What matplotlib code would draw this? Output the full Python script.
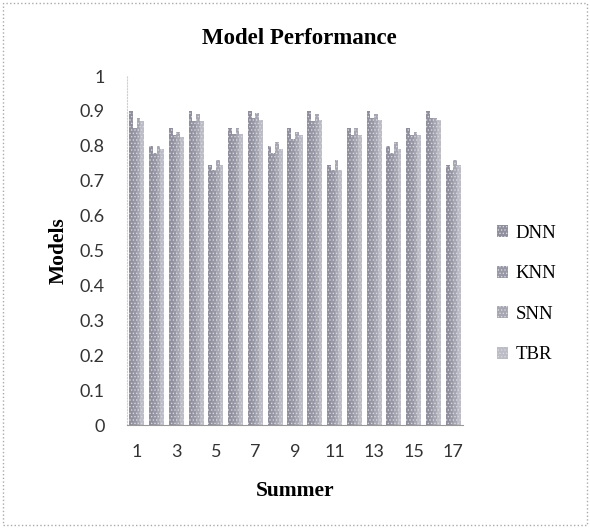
import numpy as np
import matplotlib
matplotlib.use('Agg')
import matplotlib.pyplot as plt
from matplotlib.patches import Rectangle

# values
summers = list(range(1, 18))
dnn = [0.90, 0.80, 0.85, 0.90, 0.745, 0.85, 0.90, 0.80, 0.85, 0.90, 0.745, 0.85, 0.90, 0.80, 0.85, 0.90, 0.745]
knn = [0.85, 0.78, 0.83, 0.87, 0.73, 0.835, 0.88, 0.78, 0.82, 0.87, 0.73, 0.83, 0.88, 0.78, 0.83, 0.88, 0.73]
snn = [0.88, 0.80, 0.84, 0.89, 0.76, 0.85, 0.895, 0.81, 0.84, 0.89, 0.76, 0.85, 0.89, 0.81, 0.84, 0.88, 0.76]
tbr = [0.87, 0.79, 0.825, 0.87, 0.745, 0.835, 0.875, 0.79, 0.83, 0.875, 0.73, 0.83, 0.875, 0.79, 0.83, 0.875, 0.745]
series = {'DNN': dnn, 'KNN': knn, 'SNN': snn, 'TBR': tbr}
colors = ['#8e8e9c', '#9696a4', '#a6a6b2', '#bcbcc6']

plt.rcParams['font.family'] = ['Liberation Serif', 'DejaVu Serif']
plt.rcParams['hatch.linewidth'] = 0.6

fig = plt.figure(figsize=(5.9, 5.28), dpi=100)
ax = fig.add_axes([0.215, 0.195, 0.57, 0.661])

x = np.arange(len(summers))
w = 0.19
for i, (name, vals) in enumerate(series.items()):
    ax.bar(x + (i - 1.5) * w, vals, width=w, color=colors[i], label=name,
           hatch='.....', edgecolor='#d8d8de', linewidth=0)

ax.set_ylim(0, 1)
ax.set_xlim(-0.5, len(summers) - 0.5)
ax.set_yticks(np.arange(0, 1.01, 0.1))
ax.set_yticklabels(['0', '0.1', '0.2', '0.3', '0.4', '0.5', '0.6', '0.7', '0.8', '0.9', '1'])
ax.set_xticks(x[::2])
ax.set_xticklabels([str(s) for s in summers[::2]])
ax.tick_params(axis='both', length=0, labelsize=13, colors='#333333')
ax.tick_params(axis='y', pad=16)
ax.tick_params(axis='x', pad=14)
for lab in ax.get_xticklabels() + ax.get_yticklabels():
    lab.set_family('Lato')
for side in ['top', 'right']:
    ax.spines[side].set_visible(False)
ax.spines['left'].set_color('#cfcfcf')
ax.spines['left'].set_linestyle(':')
ax.spines['bottom'].set_color('#999999')

ax.set_xlabel('Summer', fontsize=15.5, fontweight='bold', labelpad=15)
ax.set_ylabel('Models', fontsize=15.5, fontweight='bold', labelpad=8)
fig.text(0.508, 0.928, 'Model Performance', ha='center', va='center',
         fontsize=16.5, fontweight='bold')

ax.legend(loc='center left', bbox_to_anchor=(1.05, 0.375), frameon=False,
          fontsize=13.5, handlelength=0.6, handleheight=0.6, handletextpad=0.4,
          labelspacing=1.25)

fig.patches.append(Rectangle((0.005, 0.005), 0.99, 0.99, transform=fig.transFigure,
                             fill=False, edgecolor='#aaaaaa', linestyle=':', linewidth=1))

fig.savefig('out.png', dpi=100)
